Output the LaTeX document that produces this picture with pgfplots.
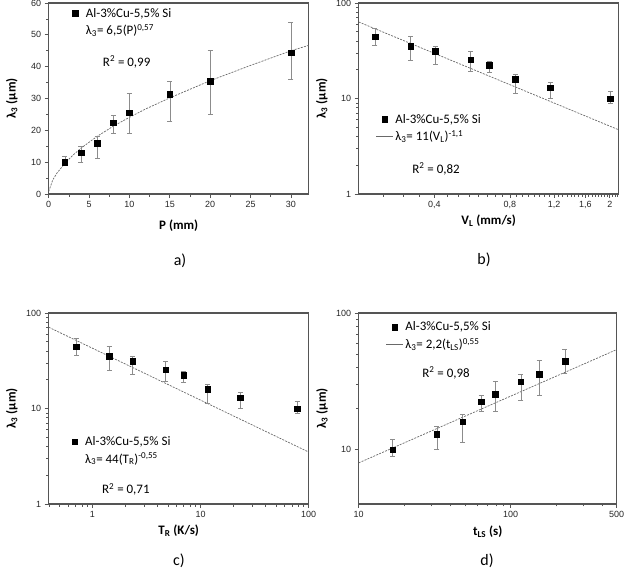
\documentclass[border=0pt]{standalone}
\usepackage{fontspec}
\setmainfont{Carlito}
\newfontfamily\tickfam{Liberation Sans}
\usepackage{pgfplots}
\pgfplotsset{compat=1.18}

\definecolor{axgray}{RGB}{85,85,85}
\definecolor{errgray}{RGB}{140,140,140}
\definecolor{fitgray}{RGB}{105,105,105}

\newcommand\labfont{\bfseries\fontsize{13}{15}\selectfont}
\newcommand\legfont{\fontsize{13}{15}\selectfont}

\pgfplotsset{
  panel/.style={
    scale only axis, width=260bp, height=191bp,
    axis line style={axgray, line width=1.1bp},
    tick style={axgray, line width=0.7bp},
    major tick length=4bp, minor tick length=2.5bp,
    tick align=outside, tick pos=left,
    /pgf/number format/assume math mode=true,
    ticklabel style={font=\tickfam\fontsize{9}{10}\selectfont, text=black!85},
    every axis y label/.style={at={(axis description cs:-0.142,0.5)}, rotate=90, anchor=center},
    legend style={draw=none, fill=none, inner sep=0pt, anchor=north west,
      font=\legfont, row sep=2bp,
      /tikz/every even column/.append style={column sep=14bp}},
    legend cell align=left,
  },
  xlab/.style={every axis x label/.style={at={(axis description cs:0.5,#1)}, anchor=center}},
  pts/.style={only marks, mark=square*, mark size=2.8bp, black,
    error bars/y dir=both, error bars/y explicit,
    error bars/error bar style={errgray, line width=0.6bp},
    error bars/error mark options={rotate=90, mark size=2.5bp, errgray, line width=0.6bp}},
  fit/.style={no marks, fitgray, line width=0.7bp, dash pattern=on 2bp off 1.2bp, forget plot},
  hide/.style={draw opacity=0, fill opacity=0},
}

\begin{document}
\begin{tikzpicture}[x=1bp,y=1bp]
\useasboundingbox (0,0) rectangle (629,-571);

% a)
\begin{axis}[panel, at={(48.7bp,-194bp)}, anchor=south west,
  xmin=0, xmax=32.2, ymin=0, ymax=60,
  xtick={0,5,...,30}, ytick={0,10,...,60}, minor x tick num=1, minor y tick num=1,
  xlabel={\labfont P (mm)}, ylabel={\labfont λ\textsubscript{3} (μm)}, xlab=-0.165,
  legend style={at={(axis description cs:0.068,0.985)}}]
\addplot[fit] coordinates {
 (0,0.8) (0.5,4.4) (1,6.5) (2,9.6) (3,12.2) (4,14.4) (6,18.1) (8,21.3)
 (10,24.1) (12,26.7) (15,30.2) (20,35.6) (25,40.4) (30,45.0) (32.2,46.7)
};
\addplot[pts] coordinates {
 (2,10.0) += (0,2.0) -= (0,1.0)
 (4,13.0) += (0,1.9) -= (0,3.0)
 (6,16.0) += (0,2.0) -= (0,4.7)
 (8,22.4) += (0,2.4) -= (0,3.4)
 (10,25.5) += (0,6.0) -= (0,6.3)
 (15,31.4) += (0,4.1) -= (0,8.5)
 (20,35.5) += (0,9.5) -= (0,10.6)
 (30,44.4) += (0,9.4) -= (0,8.4)
};
\addlegendentry{\legfont Al-3\%Cu-5,5\% Si}
\addlegendimage{hide}
\addlegendentry{\legfont λ\textsubscript{3}= 6,5(P)\textsuperscript{0,57}}
\addlegendimage{hide}
\addlegendentry{\legfont\rule{0pt}{24bp}\hspace*{17bp}R\textsuperscript{2} = 0,99}
\end{axis}

% b)
\begin{axis}[panel, at={(358.7bp,-194bp)}, anchor=south west,
  xmode=log, ymode=log, xmin=0.2, xmax=2.17, ymin=1, ymax=100,
  xtick={0.4,0.8,1.2,1.6,2}, xticklabels={{0,4},{0,8},{1,2},{1,6},2},
  minor xtick={0.25,0.3,0.35,0.45,0.5,0.55,0.6,0.65,0.7,0.75,0.85,0.9,0.95,1,1.05,1.1,1.15,1.25,1.3,1.35,1.4,1.45,1.5,1.55,1.65,1.7,1.75,1.8,1.85,1.9,1.95,2.05,2.1,2.15},
  ytick={1,10,100}, yticklabels={1,10,100}, minor ytick={},
  xlabel={\labfont V\textsubscript{L} (mm/s)}, ylabel={\labfont λ\textsubscript{3} (μm)}, xlab=-0.14,
  legend style={at={(axis description cs:0.065,0.43)}}]
\addplot[fit] coordinates {(0.2,63.3) (2.17,4.7)};
\addplot[pts] coordinates {
 (2.01,10.0) += (0,2.0) -= (0,1.0)
 (1.16,13.0) += (0,1.9) -= (0,3.0)
 (0.839,16.0) += (0,2.0) -= (0,4.7)
 (0.663,22.4) += (0,2.4) -= (0,3.4)
 (0.558,25.5) += (0,6.0) -= (0,6.3)
 (0.404,31.4) += (0,4.1) -= (0,8.5)
 (0.322,35.5) += (0,9.5) -= (0,10.6)
 (0.232,44.4) += (0,9.4) -= (0,8.4)
};
\addlegendentry{\legfont Al-3\%Cu-5,5\% Si}
\addlegendimage{fitgray, line width=0.6bp}
\addlegendentry{\legfont λ\textsubscript{3}= 11(V\textsubscript{L})\textsuperscript{-1,1}}
\addlegendimage{hide}
\addlegendentry{\legfont\rule{0pt}{25bp}\hspace*{17bp}R\textsuperscript{2} = 0,82}
\end{axis}

% c)
\begin{axis}[panel, at={(48.7bp,-504bp)}, anchor=south west,
  xmode=log, ymode=log, xmin=0.395, xmax=100, ymin=1, ymax=100,
  xtick={1,10,100}, xticklabels={1,10,100},
  minor xtick={0.4,0.5,0.6,0.7,0.8,0.9,2,3,4,5,6,7,8,9,20,30,40,50,60,70,80,90},
  ytick={1,10,100}, yticklabels={1,10,100}, minor ytick={},
  xlabel={\labfont T\textsubscript{R} (K/s)}, ylabel={\labfont λ\textsubscript{3} (μm)}, xlab=-0.14,
  legend style={at={(axis description cs:0.065,0.365)}}]
\addplot[fit] coordinates {(0.395,71) (100,3.5)};
\addplot[pts] coordinates {
 (78.6,10.0) += (0,2.0) -= (0,1.0)
 (23.4,13.0) += (0,1.9) -= (0,3.0)
 (11.6,16.0) += (0,2.0) -= (0,4.7)
 (6.97,22.4) += (0,2.4) -= (0,3.4)
 (4.75,25.5) += (0,6.0) -= (0,6.3)
 (2.36,31.4) += (0,4.1) -= (0,8.5)
 (1.43,35.5) += (0,9.5) -= (0,10.6)
 (0.71,44.4) += (0,9.4) -= (0,8.4)
};
\addlegendentry{\legfont Al-3\%Cu-5,5\% Si}
\addlegendimage{hide}
\addlegendentry{\legfont λ\textsubscript{3}= 44(T\textsubscript{R})\textsuperscript{-0,55}}
\addlegendimage{hide}
\addlegendentry{\legfont\rule{0pt}{23bp}\hspace*{17bp}R\textsuperscript{2} = 0,71}
\end{axis}

% d)
\begin{axis}[panel, at={(358.7bp,-504bp)}, anchor=south west, width=258bp,
  xmode=log, ymode=log, xmin=10, xmax=500, ymin=4, ymax=100,
  xtick={10,100,500}, xticklabels={10,100,500},
  minor xtick={20,30,40,50,60,70,80,90,200,300,400},
  ytick={10,100}, yticklabels={10,100}, minor ytick={},
  xlabel={\labfont t\textsubscript{LS} (s)}, ylabel={\labfont λ\textsubscript{3} (μm)}, xlab=-0.145,
  legend style={at={(axis description cs:0.104,0.965)}}]
\addplot[fit] coordinates {(10,8.0) (500,54)};
\addplot[pts] coordinates {
 (16.7,10.0) += (0,2.0) -= (0,1.0)
 (32.7,13.0) += (0,1.9) -= (0,3.0)
 (48.4,16.0) += (0,2.0) -= (0,4.7)
 (63.9,22.4) += (0,2.4) -= (0,3.4)
 (79.3,25.5) += (0,6.0) -= (0,6.3)
 (116.9,31.4) += (0,4.1) -= (0,8.5)
 (154,35.5) += (0,9.5) -= (0,10.6)
 (228,44.4) += (0,9.4) -= (0,8.4)
};
\addlegendentry{\legfont Al-3\%Cu-5,5\% Si}
\addlegendimage{fitgray, line width=0.6bp}
\addlegendentry{\legfont λ\textsubscript{3}= 2,2(t\textsubscript{LS})\textsuperscript{0,55}}
\addlegendimage{hide}
\addlegendentry{\legfont\rule{0pt}{21bp}\hspace*{17bp}R\textsuperscript{2} = 0,98}
\end{axis}

\node[font=\fontsize{16}{18}\selectfont] at (180,-261) {a)};
\node[font=\fontsize{16}{18}\selectfont] at (484,-260) {b)};
\node[font=\fontsize{16}{18}\selectfont] at (179,-561) {c)};
\node[font=\fontsize{16}{18}\selectfont] at (487,-561) {d)};
\end{tikzpicture}
\end{document}
